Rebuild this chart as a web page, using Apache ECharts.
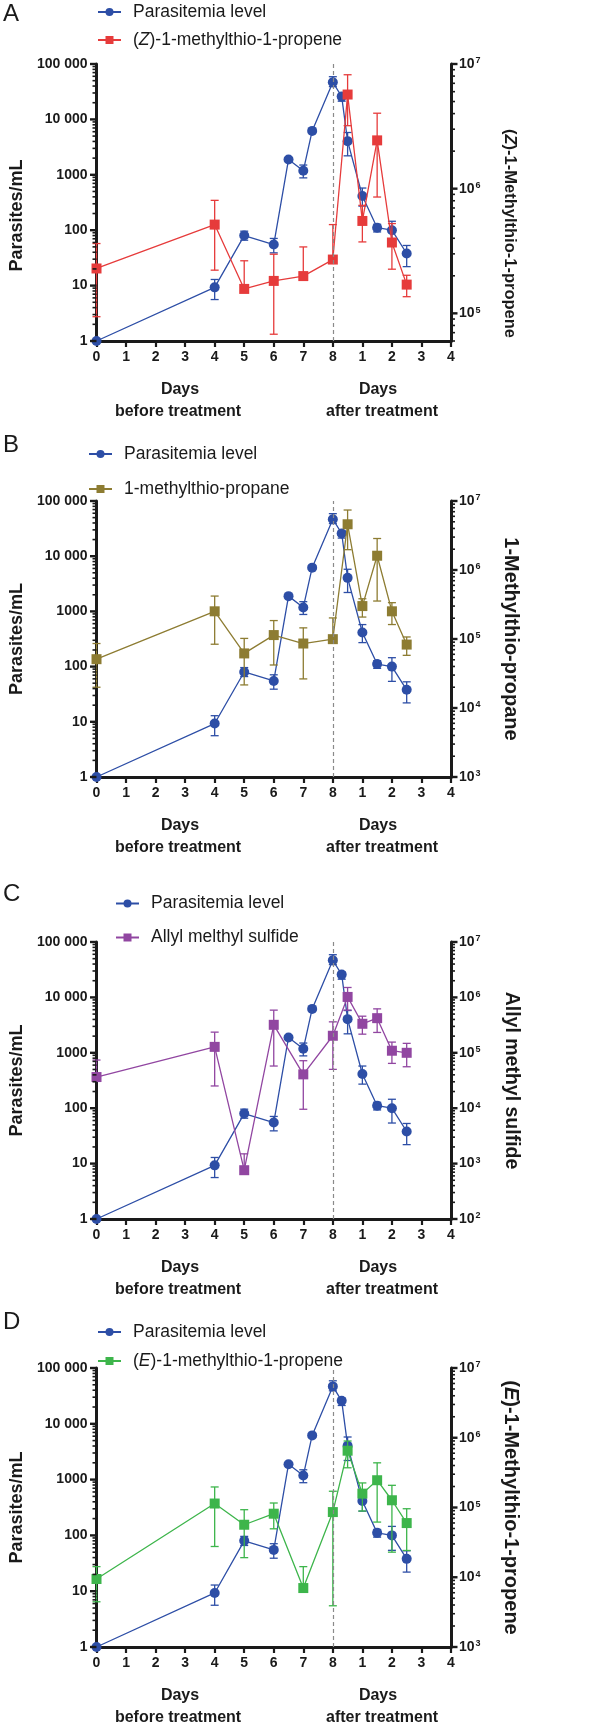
<!DOCTYPE html>
<html><head><meta charset="utf-8">
<script src="https://cdn.jsdelivr.net/npm/echarts@6/dist/echarts.min.js"></script>
<style>html,body{margin:0;padding:0;background:#fff}#c{width:590px;height:1727px}</style>
</head><body><div id="c"></div>
<script>
// ---- data (x: days before treatment 0..8; after-treatment day d plotted at 8+d) ----
const xTickLabels = ['0','1','2','3','4','5','6','7','8','1','2','3','4'];
const leftTickLabels = {1:'1', 10:'10', 100:'100', 1000:'1000', 10000:'10 000', 100000:'100 000'};

const parasX    = [0, 4, 5, 6, 6.5, 7, 7.3, 8, 8.3, 8.5, 9, 9.5, 10, 10.5];
const parasVal  = [1, 9.3, 80, 55, 1890, 1180, 6200, 46800, 25800, 4050, 414, 111, 100, 38];
const parasLow  = [null, 5.6, 66, 39, null, 880, null, 39000, 21300, 2200, 272, 93, 54, 22];
const parasHigh = [null, 12.9, 96, 71, null, 1500, null, 59000, 28800, 5800, 577, 128, 145, 53];

const vocX = [0, 4, 5, 6, 7, 8, 8.5, 9, 9.5, 10, 10.5];

const zName = '(Z)-1-methylthio-1-propene';
const zVal  = [229000, 515000, 157000, 182000, 199000, 270000, 5690000, 551000, 2440000, 370000, 170000];
const zLow  = [94000, 222000, 157000, 68000, 199000, 270000, 3200000, 374000, 857000, 226000, 136000];
const zHigh = [363000, 806000, 264000, 298000, 341000, 515000, 8200000, 735000, 4030000, 525000, 202000];

const mName = '1-methylthio-propane';
const mVal  = [51000, 252000, 61800, 114000, 86000, 99500, 4600000, 300000, 1610000, 252000, 83000];
const mLow  = [20000, 84000, 21600, 42000, 26400, 99500, 1970000, 208000, 355000, 162000, 58000];
const mHigh = [86000, 419000, 102000, 185000, 145000, 202000, 7400000, 383000, 2860000, 336000, 107000];

const aName = 'Allyl melthyl sulfide';
const aVal  = [36500, 128000, 760, 320000, 40800, 203000, 1020000, 334000, 422000, 109000, 100000];
const aLow  = [36500, 25200, 760, 57700, 9570, 50200, 589000, 217000, 233000, 64400, 56000];
const aHigh = [74000, 236000, 1500, 589000, 72000, 362000, 1510000, 458000, 621000, 156000, 148000];

const eName = '(E)-1-methylthio-1-propene';
const eVal  = [9440, 114000, 56600, 81500, 7000, 86000, 652000, 158000, 246000, 127000, 59800];
const eLow  = [4450, 27600, 19100, 49500, 7000, 3900, 371000, 89000, 61800, 22900, 24200];
const eHigh = [14200, 197000, 93000, 116000, 14200, 171000, 898000, 225000, 437000, 208000, 96000];

// ---- layout ----
const FONT = '"Liberation Sans", Arial, Helvetica, sans-serif';
const BLUE = '#2d4ea6';
const AXC = '#1a1a1a';
const panels = [
  {letter:'A', top:64, h:277, legTop:-2, legLeft:92, legGap:10, name:zName, axisName:'({i|Z})-1-Methylthio-1-propene', rSize:16.5, rPad:[0,0,0,62], lPad:[0,26,0,0], color:'#e63b3b', rMin:6e4, vals:zVal, low:zLow, high:zHigh},
  {letter:'B', top:501, h:276, legTop:440, legLeft:83, legGap:17, name:mName, axisName:'1-Methylthio-propane', rSize:20, rPad:0, lPad:0, color:'#8d7c32', rMin:1e3, vals:mVal, low:mLow, high:mHigh},
  {letter:'C', top:942, h:277, legTop:889.5, legLeft:110, legGap:16, name:aName, axisName:'Allyl methyl sulfide', rSize:19.5, rPad:0, lPad:0, color:'#9146a1', rMin:1e2, vals:aVal, low:aLow, high:aHigh},
  {letter:'D', top:1368, h:279, legTop:1318, legLeft:92, legGap:11, name:eName, axisName:'({i|E})-1-Methylthio-1-propene', rSize:20, rPad:0, lPad:0, color:'#3db54b', rMin:1e3, vals:eVal, low:eLow, high:eHigh}
];
const GL = 80, GW = 371;

function isPow10(v){ const l = Math.log10(v); return Math.abs(l - Math.round(l)) < 1e-6; }
function logTicks(min, max){
  const out = [];
  for (let k = Math.floor(Math.log10(min)); k <= Math.ceil(Math.log10(max)); k++){
    for (let m = 1; m <= 9; m++){
      const v = m * Math.pow(10, k);
      if (v >= min * 0.9999 && v <= max * 1.0001) out.push(v);
    }
  }
  return out;
}
function tickRender(dir){
  return function(params, api){
    const p = api.coord([api.value(0), api.value(1)]);
    const major = api.value(2) === 1;
    const len = major ? 6.5 : 4;
    return {type:'line', shape:{x1:p[0], y1:p[1], x2:p[0] + dir*len, y2:p[1]},
      style:{stroke:AXC, lineWidth: major ? 2.4 : 1.6}};
  };
}
function errRender(color){
  return function(params, api){
    const x = api.value(0), lo = api.value(1), hi = api.value(2);
    const a = api.coord([x, hi]), b = api.coord([x, lo]);
    const w = 4, st = {stroke:color, lineWidth:1.3};
    return {type:'group', children:[
      {type:'line', shape:{x1:a[0], y1:a[1], x2:b[0], y2:b[1]}, style:st},
      {type:'line', shape:{x1:a[0]-w, y1:a[1], x2:a[0]+w, y2:a[1]}, style:st},
      {type:'line', shape:{x1:b[0]-w, y1:b[1], x2:b[0]+w, y2:b[1]}, style:st}
    ]};
  };
}

const grid = [], xAxis = [], yAxis = [], series = [], legend = [], graphic = [];
panels.forEach((p, i) => {
  grid.push({left:GL, top:p.top, width:GW, height:p.h, containLabel:false});
  xAxis.push({
    type:'value', gridIndex:i, min:0, max:12, interval:1,
    axisLine:{onZero:false, lineStyle:{color:AXC, width:3}},
    axisTick:{length:6, lineStyle:{color:AXC, width:2.2}},
    axisLabel:{formatter: v => xTickLabels[Math.round(v)], fontFamily:FONT, fontWeight:'bold', fontSize:14, color:AXC, margin:9},
    splitLine:{show:false}
  });
  yAxis.push({
    type:'log', logBase:10, gridIndex:i, min:1, max:100000, position:'left',
    axisLine:{show:true, onZero:false, lineStyle:{color:AXC, width:3}},
    axisTick:{show:false}, splitLine:{show:false},
    axisLabel:{formatter: v => leftTickLabels[Math.round(v)] || '', fontFamily:FONT, fontWeight:'bold', fontSize:14, color:AXC, margin:9},
    name:'Parasites/mL', nameLocation:'middle', nameGap:63,
    nameTextStyle:{fontFamily:FONT, fontWeight:'bold', fontSize:18, color:AXC, padding:p.lPad}
  });
  yAxis.push({
    type:'log', logBase:10, gridIndex:i, min:p.rMin, max:1e7, position:'right',
    axisLine:{show:true, onZero:false, lineStyle:{color:AXC, width:3}},
    axisTick:{show:false}, splitLine:{show:false},
    axisLabel:{formatter: v => isPow10(v) ? '10{s|' + Math.round(Math.log10(v)) + '}' : '',
      fontFamily:FONT, fontWeight:'bold', fontSize:14, color:AXC, margin:8,
      rich:{s:{fontFamily:FONT, fontWeight:'bold', fontSize:9, color:AXC, verticalAlign:'top', padding:[0,0,6,1]}}},
    name:p.axisName, nameLocation:'middle', nameGap:50, nameRotate:-90,
    nameTextStyle:{fontFamily:FONT, fontWeight:'bold', fontSize:p.rSize, color:AXC, padding:p.rPad,
      rich:{i:{fontFamily:FONT, fontWeight:'bold', fontStyle:'italic', fontSize:p.rSize, color:AXC}}}
  });
  const yl = 2*i, yr = 2*i + 1;
  // axis ticks (major + log minor)
  series.push({type:'custom', xAxisIndex:i, yAxisIndex:yl, silent:true, clip:false, z:6,
    data: logTicks(1, 100000).map(v => [0, v, isPow10(v) ? 1 : 0]), renderItem: tickRender(-1)});
  series.push({type:'custom', xAxisIndex:i, yAxisIndex:yr, silent:true, clip:false, z:6,
    data: logTicks(p.rMin, 1e7).map(v => [12, v, isPow10(v) ? 1 : 0]), renderItem: tickRender(1)});
  // error bars
  const pErr = [];
  parasX.forEach((x, j) => { if (parasLow[j] != null) pErr.push([x, parasLow[j], parasHigh[j]]); });
  series.push({type:'custom', xAxisIndex:i, yAxisIndex:yl, silent:true, z:3, data:pErr, renderItem: errRender(BLUE)});
  series.push({type:'custom', xAxisIndex:i, yAxisIndex:yr, silent:true, z:4,
    data: vocX.map((x, j) => [x, p.low[j], p.high[j]]), renderItem: errRender(p.color)});
  // parasitemia line
  series.push({type:'line', name:'Parasitemia level', xAxisIndex:i, yAxisIndex:yl, z:3,
    data: parasX.map((x, j) => [x, parasVal[j]]),
    symbol:'circle', symbolSize:10, showSymbol:true,
    itemStyle:{color:BLUE}, lineStyle:{color:BLUE, width:1.3}, animation:false,
    markLine:{silent:true, symbol:['none','none'], label:{show:false},
      lineStyle:{color:'#8a8a8a', type:[4,3], width:1.2}, data:[{xAxis:8}]}
  });
  // VOC line
  series.push({type:'line', name:p.name, xAxisIndex:i, yAxisIndex:yr, z:4,
    data: vocX.map((x, j) => [x, p.vals[j]]),
    symbol:'rect', symbolSize:10, showSymbol:true,
    itemStyle:{color:p.color}, lineStyle:{color:p.color, width:1.3}, animation:false});
  legend.push({
    data:['Parasitemia level', p.name], orient:'vertical', left:p.legLeft, top:p.legTop,
    itemWidth:23, itemHeight:10, itemGap:p.legGap, selectedMode:false,
    formatter: n => n.replace(/\((Z|E)\)/, '({i|$1})'),
    textStyle:{fontFamily:FONT, fontSize:17.5, color:AXC, padding:[0,0,0,7],
      rich:{i:{fontFamily:FONT, fontSize:17.5, fontStyle:'italic', color:AXC}}}
  });
  const b = p.top + p.h;
  const txt = (x, y, t, size, weight) => ({type:'text', x, y, silent:true,
    style:{text:t, fill:AXC, font: weight + ' ' + size + 'px ' + FONT, align:'center', verticalAlign:'middle', textAlign:'center', textVerticalAlign:'middle'}});
  graphic.push(txt(180, b + 49, 'Days', 16, 'bold'));
  graphic.push(txt(178, b + 71, 'before treatment', 16, 'bold'));
  graphic.push(txt(378, b + 49, 'Days', 16, 'bold'));
  graphic.push(txt(382, b + 71, 'after treatment', 16, 'bold'));
});
const letterY = [14, 445, 894, 1322];
panels.forEach((p, i) => {
  graphic.push({type:'text', x:3, y:letterY[i], silent:true,
    style:{text:p.letter, fill:AXC, font:'normal 24px ' + FONT, align:'left', verticalAlign:'middle', textAlign:'left', textVerticalAlign:'middle'}});
});

const chart = echarts.init(document.getElementById('c'), null, {renderer:'canvas'});
chart.setOption({backgroundColor:'#fff', animation:false, grid, xAxis, yAxis, series, legend, graphic});
</script></body></html>
